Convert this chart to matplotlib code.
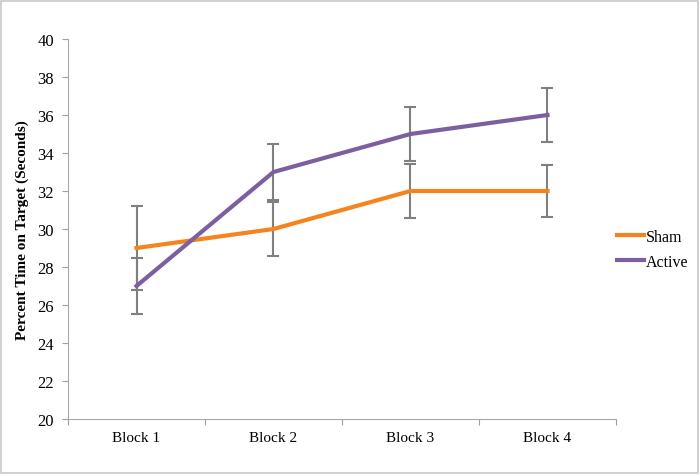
import matplotlib.pyplot as plt
from matplotlib.patches import Rectangle
from matplotlib.lines import Line2D

blocks = ["Block 1", "Block 2", "Block 3", "Block 4"]
sham = [29, 30, 32, 32]
sham_err = [2.2, 1.4, 1.4, 1.35]
active = [27, 33, 35, 36]
active_err = [1.45, 1.47, 1.4, 1.4]

plt.rcParams['font.family'] = ['Liberation Serif', 'DejaVu Serif']

fig = plt.figure(figsize=(7, 4.77), dpi=100)
ax = fig.add_axes([68/700, 57/477, 548/700, 380/477])

# outer border of the picture
fig.patches.append(Rectangle((0.002, 0.006), 0.995, 0.99, transform=fig.transFigure,
                             fill=False, edgecolor='#c8c8c8', linewidth=1.2))

x = [i + 0.5 for i in range(len(blocks))]
orange = '#f5841f'
purple = '#7c5fa0'
gray = '#808080'

ax.errorbar(x, sham, yerr=sham_err, color=orange, linewidth=3, ecolor=gray,
            elinewidth=1.5, capsize=4, capthick=1.5, zorder=3)
ax.errorbar(x, active, yerr=active_err, color=purple, linewidth=3, ecolor=gray,
            elinewidth=1.5, capsize=4, capthick=1.5, zorder=3)

ax.set_xlim(0, 4)
ax.set_ylim(20, 40)
ax.set_yticks(range(20, 41, 2))
ax.set_xticks(range(0, 5))
ax.set_xticklabels([])
ax.set_xticks(x, minor=True)
ax.set_xticklabels(blocks, minor=True)
ax.tick_params(axis='x', which='minor', length=0, pad=9, labelsize=11)
ax.tick_params(axis='x', which='major', length=4, color='#a0a0a0')
ax.tick_params(axis='y', length=4, color='#a0a0a0', labelsize=12, pad=6)

for s in ['top', 'right']:
    ax.spines[s].set_visible(False)
for s in ['left', 'bottom']:
    ax.spines[s].set_color('#a8a8a8')

ax.set_ylabel('Percent Time on Target (Seconds)', fontweight='bold', fontsize=11, labelpad=6)

handles = [Line2D([], [], color=orange, linewidth=3),
           Line2D([], [], color=purple, linewidth=3)]
ax.legend(handles, ['Sham', 'Active'], loc='center left', bbox_to_anchor=(0.975, 0.447),
          frameon=False, fontsize=11.5, handlelength=1.7, handletextpad=0.1,
          labelspacing=0.55)

fig.savefig('out.png', dpi=100)
